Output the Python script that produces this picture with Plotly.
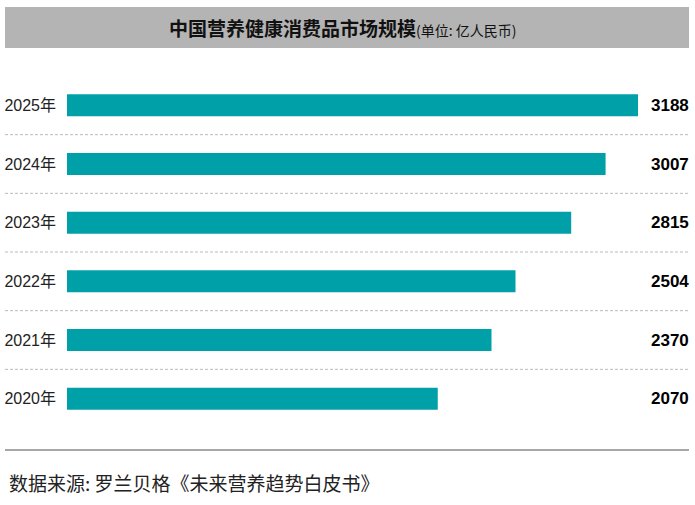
import plotly.graph_objects as go

years = ["2020年", "2021年", "2022年", "2023年", "2024年", "2025年"]
values = [2070, 2370, 2504, 2815, 3007, 3188]
title_main = "中国营养健康消费品市场规模"
title_unit = "(单位: 亿人民币)"
source = "数据来源: 罗兰贝格《未来营养趋势白皮书》"

W, H = 695, 505
ml, mr, mt, mb = 67, 6, 76, 77
pw = W - ml - mr

def px_to_paper_x(px):
    return (px - ml) / pw

def px_to_paper_y(py):
    return (H - mb - py) / (H - mt - mb)

fig = go.Figure()
fig.add_trace(go.Bar(
    x=values, y=years, orientation="h",
    marker=dict(color="#00A0A8", line=dict(width=0)),
    hoverinfo="skip",
))

# value labels
for y, v in zip(years, values):
    fig.add_annotation(x=px_to_paper_x(691), xref="paper", y=y, yref="y",
                       text=f"<b>{v}</b>", showarrow=False, xanchor="right",
                       font=dict(family="Liberation Sans, Arial", size=17, color="#000"))

shapes = []
# dashed separators between categories
for i in range(len(years) - 1):
    shapes.append(dict(type="line", xref="paper", yref="y",
                       x0=px_to_paper_x(5), x1=px_to_paper_x(688),
                       y0=i + 0.5, y1=i + 0.5,
                       line=dict(color="#BBBBBB", width=1, dash="3px,2px")))
# title bar
shapes.append(dict(type="rect", xref="paper", yref="paper",
                   x0=px_to_paper_x(5), x1=px_to_paper_x(689),
                   y0=px_to_paper_y(48), y1=px_to_paper_y(7),
                   fillcolor="#B4B4B4", line=dict(width=0), layer="below"))
# bottom solid line
shapes.append(dict(type="line", xref="paper", yref="paper",
                   x0=px_to_paper_x(5), x1=px_to_paper_x(689),
                   y0=px_to_paper_y(450), y1=px_to_paper_y(450),
                   line=dict(color="#8A8A8A", width=1.5)))

fig.add_annotation(x=px_to_paper_x(343), xref="paper", y=px_to_paper_y(28), yref="paper",
                   text=f"<b>{title_main}</b><span style='font-size:14px'>{title_unit}</span>",
                   showarrow=False, xanchor="center", yanchor="middle",
                   font=dict(family="Noto Sans CJK SC", size=19, color="#111"))
fig.add_annotation(x=px_to_paper_x(7), xref="paper", y=px_to_paper_y(482), yref="paper",
                   text=source, showarrow=False, xanchor="left", yanchor="middle",
                   font=dict(family="Noto Sans CJK SC", size=19, color="#222"))

fig.update_layout(
    width=W, height=H,
    margin=dict(l=ml, r=mr, t=mt, b=mb, autoexpand=False),
    paper_bgcolor="white", plot_bgcolor="white",
    showlegend=False, bargap=0.626,
    shapes=shapes,
    xaxis=dict(range=[0, pw / (571 / 3188)], visible=False, fixedrange=True, automargin=False),
    yaxis=dict(categoryorder="array", categoryarray=years, range=[-0.5, 5.5],
               showgrid=False, zeroline=False, showline=False, ticks="",
               ticklabelstandoff=10, automargin=False,
               tickfont=dict(family="Liberation Sans, Arial, Noto Sans CJK SC", size=16, color="#222")),
)

fig.write_html("out.html")
